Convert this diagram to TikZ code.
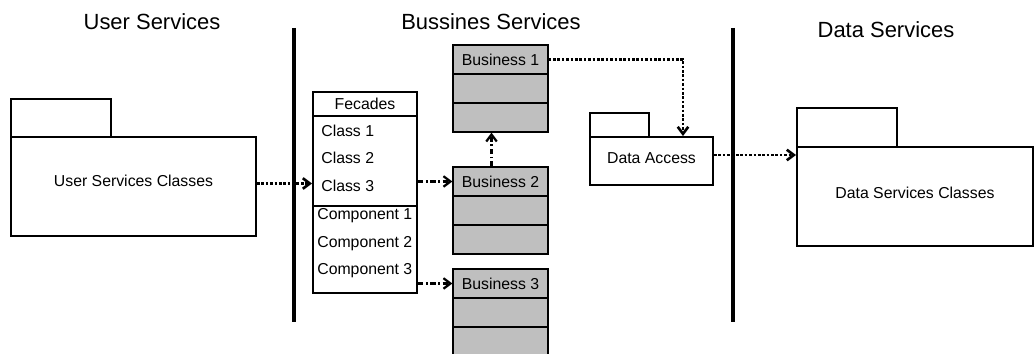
\documentclass[tikz,border=0pt]{standalone}
\usepackage{fontspec}
\setmainfont{Liberation Sans}
\usetikzlibrary{fit,arrows.meta}
\begin{document}
\begin{tikzpicture}[x=0.02cm, y=-0.02cm, font=\fontsize{9}{10}\selectfont, line join=miter, >={Straight Barb[length=4pt,width=6pt]},
		pkg/.style={draw, line width=1.1pt, inner sep=0pt, fill=white},
		biz/.style={draw, line width=0.7pt, fill=black!25, inner sep=0pt},
		item/.style={anchor=west, inner sep=0pt},
		title/.style={font=\fontsize{12.5}{14}\selectfont},
		bar/.style={line width=2.8pt},
		dep/.style={->, densely dotted, line width=1.5pt},
		dep2/.style={->, dash pattern=on 3pt off 1.5pt on 1pt off 1.5pt, line width=1.3pt}]
	\useasboundingbox (0,0) rectangle (1036,354);
	% tier titles and separators
	\node[title] (tusr) at (152,22) {User Services};
	\node[title] (tbiz) at (491,22) {Bussines Services};
	\node[title] (tdat) at (886,30) {Data Services};
	\draw[bar] (294,28) -- (294,322) (733,28) -- (733,322);
	% packages
	\node[pkg, fit={(11,99) (111,137)}] (usrtab) {};
	\node[pkg, fit={(11,137) (256,236)}, label={[yshift=0.12cm]center:User Services Classes}] (usr) {};
	\node[pkg, fit={(590,113) (649,137)}] (dacctab) {};
	\node[pkg, fit={(590,137) (713,185)}, label={[yshift=0.06cm]center:Data Access}] (dacc) {};
	\node[pkg, fit={(797,108) (897,147)}] (dsvctab) {};
	\node[pkg, fit={(797,147) (1033,246)}, label={[yshift=0.08cm]center:Data Services Classes}] (dsvc) {};
	% facade block
	\node[pkg, fit={(313,92) (417,116)}, label=center:Fecades] (fec) {};
	\node[pkg, fit={(313,116) (417,206)}] (cls) {};
	\node[pkg, fit={(313,206) (417,293)}] (cmp) {};
	\foreach \i/\y in {1/131, 2/158, 3/186} \node[item] (c\i) at (321,\y) {Class \i};
	\foreach \i/\y in {1/216, 2/244, 3/271} \node[item] (k\i) at (317,\y) {Component \i};
	% business components
	\foreach \n/\t in {1/45, 2/167, 3/269} {
		\node[biz, fit={(453,\t) (548,\t+29)}, label=center:Business \n] (b\n) {};
		\node[biz, fit={(453,\t+29) (548,\t+58)}] (m\n) {};
		\node[biz, fit={(453,\t+58) (548,\t+87)}] (l\n) {};
	}
	% dependencies
	\coordinate (turn) at (683,59);
	\draw[dep] ([yshift=0.06cm]usr.east) -- ([yshift=0.06cm]usr.east -| cls.west);
	\draw[dep2] (b2.west -| cls.east) -- (b2.west);
	\draw[dep2] (b3.west -| cmp.east) -- (b3.west);
	\draw[dep2] ([xshift=-0.18cm]b2.north) -- ([xshift=-0.18cm]l1.south);
	\draw[dep] (b1.east) -- (b1.east -| turn) -- (turn |- dacc.north);
	\draw[dep] ([yshift=0.12cm]dacc.east) -- ([yshift=0.12cm]dacc.east -| dsvc.west);
\end{tikzpicture}
\end{document}
